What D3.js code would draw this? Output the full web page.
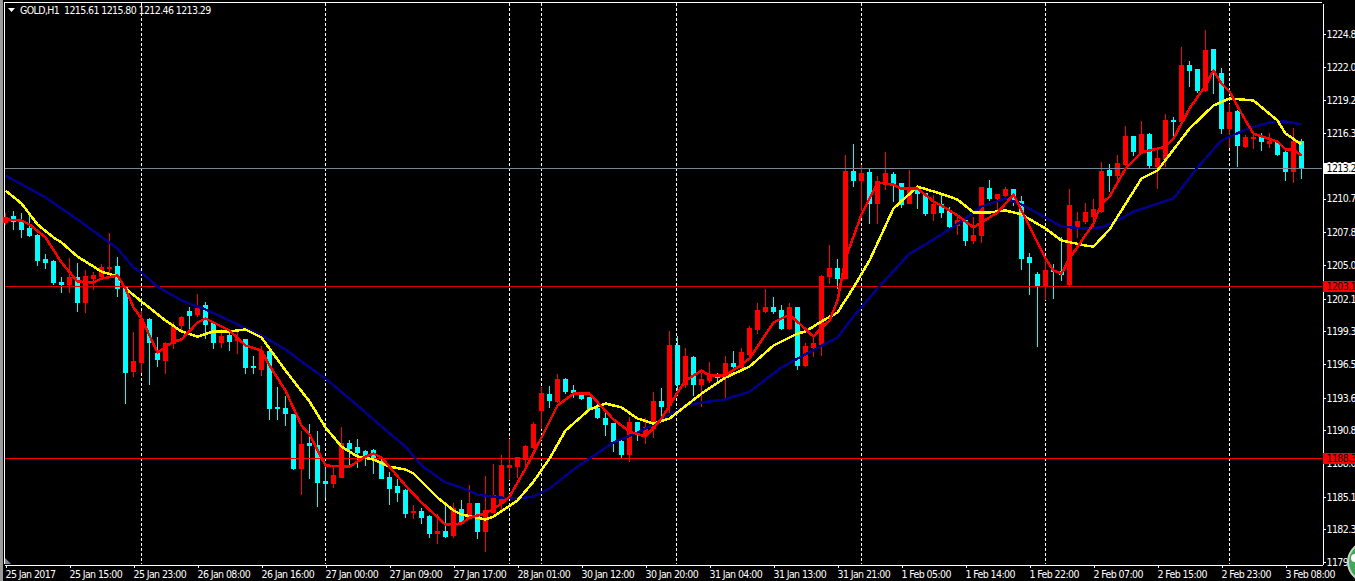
<!DOCTYPE html>
<html><head><meta charset="utf-8"><title>GOLD,H1</title>
<script src="https://cdn.jsdelivr.net/npm/d3@7/dist/d3.min.js"></script>
<style>html,body{margin:0;padding:0;background:#000;overflow:hidden}svg{display:block}
text{font-family:"DejaVu Sans Condensed","DejaVu Sans",sans-serif;font-stretch:condensed;font-size:10.5px;letter-spacing:-0.6px;fill:#fff}</style></head>
<body><svg id="c" width="1355" height="581"></svg>
<script>
const chartTitle = "GOLD,H1  1215.61 1215.80 1212.46 1213.29";
const opens = [1208.65,1209.16,1208.73,1208.13,1207.53,1205.47,1205.29,1203.49,1203.32,1203.92,1201.78,1203.83,1204.00,1204.69,1204.86,1203.06,1195.85,1196.62,1200.32,1197.39,1196.79,1198.25,1199.80,1201.00,1200.75,1201.52,1199.97,1198.34,1198.94,1198.51,1198.60,1196.27,1196.02,1197.56,1192.76,1192.67,1192.16,1187.51,1189.66,1189.49,1186.39,1186.22,1186.74,1189.66,1189.32,1188.97,1189.06,1188.11,1186.74,1185.97,1185.62,1183.74,1183.82,1183.39,1181.93,1182.10,1181.76,1184.00,1183.22,1184.51,1182.10,1183.74,1184.51,1187.60,1187.68,1188.29,1189.32,1192.50,1193.87,1193.27,1195.16,1194.21,1193.87,1193.61,1192.67,1191.81,1191.38,1189.83,1188.72,1191.47,1190.35,1190.95,1193.27,1192.93,1198.08,1194.72,1197.05,1194.72,1195.07,1195.59,1195.33,1196.53,1196.19,1197.31,1199.46,1201.00,1201.35,1201.09,1199.54,1201.35,1196.36,1197.91,1198.17,1204.00,1204.69,1203.83,1213.03,1212.25,1212.94,1210.28,1211.97,1212.77,1211.97,1210.28,1211.54,1211.11,1209.42,1210.20,1209.59,1208.39,1208.82,1207.10,1207.53,1211.56,1210.71,1210.95,1211.45,1210.45,1205.64,1204.18,1203.24,1204.52,1204.43,1203.32,1208.22,1208.73,1209.16,1209.59,1213.11,1212.68,1213.63,1216.03,1214.66,1216.20,1213.46,1214.06,1217.41,1217.33,1222.13,1221.79,1219.98,1223.51,1221.44,1216.72,1218.18,1215.17,1215.86,1216.03,1215.43,1215.52,1214.66,1213.03,1215.61];
const highs = [1209.42,1209.59,1209.42,1209.25,1207.62,1205.90,1205.38,1203.92,1205.55,1205.12,1204.52,1204.35,1205.04,1207.70,1205.64,1203.15,1199.20,1201.00,1200.40,1198.77,1198.34,1200.06,1200.57,1201.35,1202.46,1201.78,1200.06,1199.46,1199.37,1199.20,1198.60,1197.13,1198.00,1197.65,1194.47,1193.70,1192.16,1190.69,1191.30,1190.69,1187.68,1187.60,1191.04,1189.92,1190.01,1189.06,1189.15,1188.46,1187.17,1186.57,1185.71,1184.34,1184.08,1183.48,1183.57,1184.25,1184.51,1184.77,1186.05,1184.51,1186.83,1187.86,1188.63,1190.01,1188.46,1189.49,1191.47,1194.47,1194.55,1195.59,1195.24,1194.64,1193.95,1193.61,1193.10,1192.41,1191.38,1190.01,1191.90,1191.47,1191.81,1194.04,1194.38,1199.29,1198.85,1197.82,1197.13,1195.67,1196.62,1195.67,1197.13,1197.56,1197.82,1199.71,1201.69,1202.89,1202.21,1201.52,1201.69,1201.35,1198.25,1198.85,1204.09,1206.67,1205.47,1214.40,1215.35,1213.55,1213.29,1212.59,1214.66,1212.94,1211.97,1213.11,1211.54,1211.11,1210.95,1211.11,1209.94,1209.08,1208.91,1209.08,1211.65,1212.25,1211.04,1211.65,1211.45,1210.87,1205.98,1204.35,1205.55,1205.04,1207.36,1211.45,1209.51,1210.28,1210.62,1213.81,1213.63,1214.40,1216.89,1216.03,1217.33,1216.29,1214.83,1217.93,1217.67,1223.68,1222.47,1221.79,1225.14,1223.51,1221.87,1218.79,1218.27,1216.12,1216.38,1216.29,1216.29,1215.60,1214.83,1216.72,1215.80];
const lows = [1208.48,1208.05,1207.36,1207.44,1204.95,1204.69,1203.32,1202.63,1202.63,1201.00,1200.92,1202.89,1203.92,1204.18,1202.29,1193.10,1195.41,1195.76,1194.72,1196.27,1195.67,1197.82,1199.46,1199.54,1200.57,1198.68,1197.82,1197.91,1197.65,1197.39,1195.67,1195.67,1195.50,1191.73,1191.73,1191.21,1187.43,1185.27,1186.65,1184.25,1185.01,1185.88,1186.74,1187.60,1187.60,1187.77,1187.08,1186.65,1184.43,1184.69,1183.31,1183.22,1182.79,1181.59,1181.07,1181.59,1181.59,1182.79,1183.22,1181.50,1180.38,1183.74,1183.82,1186.57,1186.74,1187.68,1189.23,1190.95,1192.76,1193.19,1193.95,1193.61,1193.44,1192.50,1191.81,1190.35,1188.97,1188.37,1188.11,1189.92,1189.66,1190.18,1191.90,1192.33,1193.78,1194.47,1193.78,1192.84,1194.90,1194.81,1193.53,1195.93,1196.10,1197.22,1199.11,1200.92,1200.83,1199.46,1199.46,1196.02,1196.27,1197.13,1197.22,1203.40,1202.97,1203.83,1211.73,1209.68,1208.56,1208.56,1211.45,1210.45,1209.94,1210.28,1209.85,1209.25,1208.82,1209.08,1207.96,1207.62,1206.67,1206.84,1206.93,1210.54,1209.68,1210.87,1210.11,1204.61,1202.46,1198.00,1202.03,1202.12,1203.66,1203.24,1207.36,1208.56,1208.22,1209.51,1211.30,1212.08,1213.55,1214.40,1214.57,1213.29,1211.56,1213.46,1215.95,1217.33,1220.32,1219.81,1219.90,1219.72,1216.27,1215.09,1213.46,1215.09,1215.00,1214.83,1215.09,1214.40,1212.25,1212.08,1212.46];
const closes = [1209.08,1208.73,1208.05,1207.53,1205.38,1205.21,1203.49,1203.32,1203.92,1201.78,1204.00,1204.09,1204.78,1204.78,1202.98,1195.76,1196.70,1200.32,1198.34,1196.87,1198.25,1199.71,1200.49,1200.66,1201.26,1199.89,1198.34,1198.85,1198.42,1198.68,1196.19,1196.19,1197.56,1192.67,1192.67,1192.24,1187.51,1189.58,1189.49,1186.31,1186.22,1186.91,1189.66,1189.23,1188.89,1188.37,1188.37,1186.65,1185.80,1185.45,1183.65,1183.82,1183.31,1181.93,1182.10,1181.67,1184.08,1182.79,1184.51,1182.10,1183.91,1185.20,1187.77,1187.77,1188.46,1189.40,1191.30,1193.96,1193.36,1195.16,1194.12,1194.04,1193.53,1192.59,1191.90,1191.30,1189.75,1188.72,1191.47,1190.44,1191.04,1193.27,1192.84,1198.08,1194.72,1197.13,1194.72,1195.16,1195.59,1195.33,1196.53,1196.27,1197.48,1199.54,1201.09,1201.35,1201.00,1199.54,1201.35,1196.36,1198.00,1198.25,1204.00,1204.69,1203.83,1213.03,1212.25,1212.85,1210.28,1212.16,1212.85,1211.82,1210.20,1211.45,1211.11,1209.42,1210.20,1209.51,1208.30,1208.82,1207.10,1207.53,1211.65,1210.71,1211.04,1211.45,1210.45,1205.55,1205.21,1203.24,1204.52,1204.43,1204.18,1210.11,1208.73,1209.51,1209.77,1213.03,1212.68,1213.72,1216.03,1214.74,1216.20,1213.55,1214.14,1217.41,1217.33,1222.13,1221.70,1219.98,1223.42,1221.70,1216.72,1218.10,1215.26,1215.95,1215.95,1215.60,1215.60,1214.49,1213.03,1215.60,1213.29];

const blueIdx = [0,5,9,14,16,17,19,22,25,28,32,35,37,40,44,47,50,52,55,57,59,62,64,66,68,71,73,76,79,81,85,87,90,93,97,99,104,106,109,113,115,118,120,122,125,127,130,132,135,137,139,141,146,149,152,155,158,160,162];
const blueVal = [1212.68,1210.80,1208.91,1206.41,1204.78,1204.35,1203.14,1201.95,1201.18,1200.23,1198.94,1197.74,1196.70,1195.24,1192.93,1191.13,1189.40,1187.77,1186.31,1185.88,1185.27,1185.01,1184.93,1185.10,1185.80,1187.43,1188.37,1189.75,1190.61,1191.30,1192.93,1193.19,1193.45,1194.12,1196.19,1196.96,1198.77,1200.57,1202.97,1205.98,1206.76,1208.05,1208.99,1210.02,1210.71,1210.20,1209.08,1208.30,1208.13,1208.22,1208.82,1209.59,1210.71,1213.38,1215.69,1216.64,1217.24,1217.33,1217.07];
const yellowIdx = [0,2,4,6,7,9,12,14,15,17,20,22,24,26,28,30,32,35,38,40,42,44,46,48,50,51,54,56,57,60,61,64,66,68,70,73,75,77,79,81,83,87,90,93,96,99,100,102,104,106,108,111,114,117,119,121,123,125,127,130,132,135,136,138,142,144,148,151,153,156,159,160,162];
const yellowVal = [1211.39,1210.28,1208.48,1207.36,1206.93,1205.72,1204.43,1204.00,1202.97,1201.86,1200.23,1199.29,1198.85,1199.29,1199.29,1199.46,1198.77,1195.93,1193.27,1191.04,1189.40,1188.54,1188.29,1187.68,1187.43,1187.08,1185.01,1183.91,1183.57,1183.14,1183.39,1184.77,1186.39,1188.37,1190.78,1192.59,1193.10,1192.76,1191.81,1191.38,1191.81,1193.95,1195.33,1196.27,1198.08,1199.11,1199.29,1200.15,1200.92,1203.06,1205.38,1209.85,1211.73,1211.11,1210.62,1209.51,1209.51,1209.68,1209.34,1208.13,1207.10,1206.67,1206.58,1208.05,1212.42,1213.11,1216.72,1218.70,1219.30,1219.13,1217.41,1216.29,1215.35];
const redIdx = [0,2,3,5,7,9,11,12,14,15,16,17,19,21,22,24,25,28,30,32,33,35,37,38,40,43,45,46,47,50,52,55,57,58,60,62,63,65,67,69,71,73,76,78,80,82,84,85,87,88,90,93,96,98,101,102,103,104,105,107,109,111,112,114,116,117,119,121,124,126,130,131,132,133,136,137,138,140,142,145,146,148,150,151,152,153,155,156,159,160,161,162];
const redVal = [1208.91,1208.82,1208.48,1207.36,1205.21,1203.58,1203.49,1203.83,1204.09,1202.97,1201.35,1200.40,1197.48,1198.42,1198.60,1200.06,1200.40,1199.37,1198.08,1197.65,1196.36,1194.21,1191.21,1190.44,1187.77,1187.68,1188.54,1188.80,1188.46,1186.05,1184.60,1182.70,1182.79,1183.31,1183.65,1184.51,1185.10,1187.51,1190.18,1192.93,1193.95,1193.95,1191.73,1190.69,1190.26,1191.81,1194.04,1195.07,1195.93,1195.50,1195.50,1196.96,1200.06,1200.75,1198.85,1199.63,1200.23,1201.95,1205.55,1209.34,1212.08,1211.90,1211.56,1211.56,1210.45,1210.11,1209.25,1208.22,1209.51,1211.04,1205.55,1204.52,1204.26,1205.55,1208.56,1210.28,1210.87,1213.27,1214.66,1215.17,1215.86,1218.44,1220.41,1221.70,1220.58,1219.89,1217.41,1216.29,1215.60,1214.92,1214.92,1214.40];

const priceTicks = [1224.8,1222.0,1219.2,1216.3,1213.5,1210.7,1207.8,1205.0,1202.1,1199.3,1196.5,1193.6,1190.8,1188.0,1185.1,1182.3,1179.5];
const timeTickIdx = [0,8,16,24,32,40,48,56,64,72,80,88,96,104,112,120,128,136,144,152,160];
const timeLabels = ["25 Jan 2017","25 Jan 15:00","25 Jan 23:00","26 Jan 08:00","26 Jan 16:00","27 Jan 00:00","27 Jan 09:00","27 Jan 17:00","28 Jan 01:00","30 Jan 12:00","30 Jan 20:00","31 Jan 04:00","31 Jan 13:00","31 Jan 21:00","1 Feb 05:00","1 Feb 14:00","1 Feb 22:00","2 Feb 07:00","2 Feb 15:00","2 Feb 23:00","3 Feb 08:00"];
const separatorIdx = [17,40,63,67,84,107,130,153];
const hLevels = [{p:1213.29,c:"#778899",box:"#fff",t:"1213.2"},{p:1203.15,c:"#e00000",box:"#f00",t:"1203.1"},{p:1188.38,c:"#f00",box:"#f00",t:"1188.3"}];

const svg = d3.select("#c");
const x = d3.scaleLinear().domain([-0.125,164.625]).range([4,1322]);
const y = d3.scaleLinear().domain([1179.27,1227.46]).range([564,3]);

// frame
svg.append("rect").attr("x",0).attr("y",0).attr("width",3).attr("height",581).attr("fill","#9a9a9a");
svg.append("rect").attr("x",4).attr("y",2).attr("width",1318).attr("height",1).attr("fill","#fff");
svg.append("rect").attr("x",4).attr("y",2).attr("width",1).attr("height",562).attr("fill","#fff");
svg.append("path").attr("d",d3.line()([[5,558],[11,564],[5,564]])+"Z").attr("fill","#778899");

// separators
svg.append("g").selectAll("line").data(separatorIdx).join("line")
  .attr("x1",d=>Math.floor(x(d))+0.5).attr("x2",d=>Math.floor(x(d))+0.5)
  .attr("y1",3).attr("y2",564).attr("stroke","#fff").attr("stroke-dasharray","3,2").attr("shape-rendering","crispEdges");

// axes
const yAxis = d3.axisRight(y).tickValues(priceTicks).tickSize(3).tickSizeOuter(0).tickFormat(d3.format(".1f"));
const gy = svg.append("g").attr("transform","translate(1322.5,0.5)").call(yAxis);
const xAxis = d3.axisBottom(x).tickValues(timeTickIdx).tickSize(3).tickSizeOuter(0).tickFormat((d,i)=>timeLabels[i]);
const gx = svg.append("g").attr("transform","translate(0.5,564.5)").call(xAxis);
[gx,gy].forEach(g=>{g.selectAll("path,line").attr("stroke","#fff").attr("shape-rendering","crispEdges");});
gy.selectAll("text").attr("x",4).style("fill","#fff");
gx.selectAll("text").attr("text-anchor","start").attr("dy",0).attr("y",13).attr("dx",-0.5).style("fill","#fff");

// candles
const idx = d3.range(opens.length);
const col = i => closes[i]>=opens[i] ? "#ff0000" : "#00ffff";
const g = svg.append("g").attr("shape-rendering","crispEdges");
g.selectAll(".w").data(idx).join("rect").attr("class","w")
  .attr("x",i=>Math.round(x(i))).attr("width",1)
  .attr("y",i=>Math.round(y(highs[i]))).attr("height",i=>Math.round(y(lows[i]))-Math.round(y(highs[i]))+1)
  .attr("fill",col);
g.selectAll(".b").data(idx).join("rect").attr("class","b")
  .attr("x",i=>Math.round(x(i))-2).attr("width",5)
  .attr("y",i=>Math.round(y(Math.max(opens[i],closes[i]))))
  .attr("height",i=>Math.round(y(Math.min(opens[i],closes[i])))-Math.round(y(Math.max(opens[i],closes[i])))+1)
  .attr("fill",col);

// horizontal level lines
svg.append("g").selectAll("line").data(hLevels).join("line")
  .attr("x1",5).attr("x2",1322).attr("y1",d=>Math.round(y(d.p))+0.5).attr("y2",d=>Math.round(y(d.p))+0.5)
  .attr("stroke",d=>d.c).attr("stroke-width",1).attr("shape-rendering","crispEdges");

// moving averages
const maLine = (ids,vals,c)=>svg.append("path")
  .attr("d",d3.line().x((d,i)=>x(ids[i])+0.5).y((d)=>y(d)+0.5)(vals))
  .attr("fill","none").attr("stroke",c).attr("stroke-width",2.5).attr("stroke-linejoin","round").attr("shape-rendering","crispEdges");
maLine(blueIdx,blueVal,"#00008b");
maLine(yellowIdx,yellowVal,"#ffff00");
maLine(redIdx,redVal,"#ff0000");

// price labels
const lab = svg.append("g").selectAll("g").data(hLevels).join("g");
lab.append("rect").attr("x",1323).attr("width",32).attr("height",11)
  .attr("y",d=>Math.round(y(d.p))-5).attr("fill",d=>d.box);
lab.append("text").attr("x",1326.5).attr("y",d=>Math.round(y(d.p))+4).text(d=>d.t).style("fill","#000");

// header
svg.append("path").attr("d",d3.line()([[8,8],[15,8],[11.5,12]])+"Z").attr("fill","#fff");
svg.append("text").attr("x",20).attr("y",14).style("white-space","pre").text(chartTitle);

// watermark badge
svg.append("circle").attr("cx",1368).attr("cy",562).attr("r",20).attr("fill","#43a85a").attr("stroke","#c8d4c8").attr("stroke-width",2);
svg.append("circle").attr("cx",1355).attr("cy",558).attr("r",4).attr("fill","#fff");
</script></body></html>
